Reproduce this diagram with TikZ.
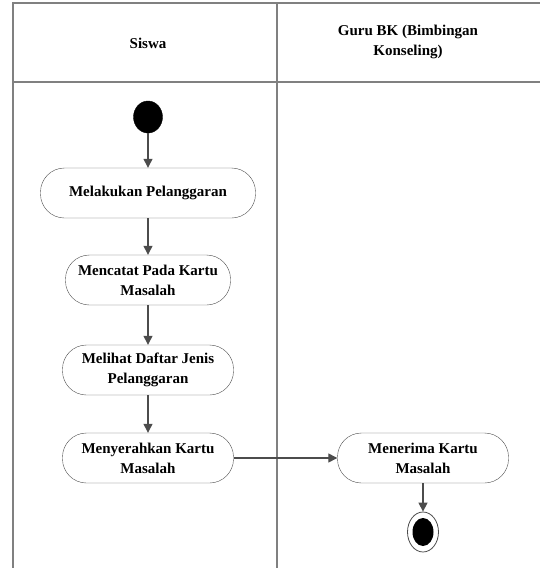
\documentclass[tikz,border=0pt]{standalone}
\usepackage{fontspec}
\setmainfont{Liberation Serif}
\usetikzlibrary{arrows.meta,shapes.geometric}
\tikzset{
  act/.style={draw=black!70, rounded corners=24pt, minimum height=50pt, align=center, font=\bfseries\fontsize{15}{20}\selectfont, inner sep=2pt},
  flow/.style={draw=black!70, line width=1.3pt, -{Triangle[length=9pt,width=9pt]}},
  lane/.style={draw=black!50, line width=1.2pt}
}
\begin{document}
\begin{tikzpicture}[x=1pt, y=-1pt]
  \useasboundingbox (0,0) rectangle (540,568);
  % swimlanes
  \draw[lane] (13,568) -- (13,3) -- (540,3);
  \draw[lane] (277,3) -- (277,568);
  \draw[lane] (13,82) -- (540,82);
  \node[font=\bfseries\fontsize{15}{20}\selectfont] (siswa) at (148,43) {Siswa};
  \node[font=\bfseries\fontsize{15}{20}\selectfont, align=center] (guru) at (408,42) {Guru BK (Bimbingan\\Konseling)};
  % nodes
  \node[draw, fill=black, ellipse, minimum width=29pt, minimum height=32pt, inner sep=0pt] (start) at (148,117) {};
  \node[act, minimum width=215pt] (a1) at (148,193) {Melakukan Pelanggaran};
  \node[act, minimum width=165pt] (a2) at (148,280) {Mencatat Pada Kartu\\Masalah};
  \node[act, minimum width=171pt] (a3) at (148,370) {Melihat Daftar Jenis\\Pelanggaran};
  \node[act, minimum width=171pt] (a4) at (148,458) {Menyerahkan Kartu\\Masalah};
  \node[act, minimum width=171pt] (b1) at (423,458) {Menerima Kartu\\Masalah};
  \node[draw=black!70, thick, ellipse, minimum width=31pt, minimum height=40pt, inner sep=0pt] (stop) at (423,532) {};
  \node[fill=black, ellipse, minimum width=21pt, minimum height=28pt, inner sep=0pt] (stopin) at (stop) {};
  % arrows
  \draw[flow] (start) -- (a1);
  \draw[flow] (a1) -- (a2);
  \draw[flow] (a2) -- (a3);
  \draw[flow] (a3) -- (a4);
  \draw[flow] (a4) -- (b1);
  \draw[flow] (b1) -- (stop);
\end{tikzpicture}
\end{document}
